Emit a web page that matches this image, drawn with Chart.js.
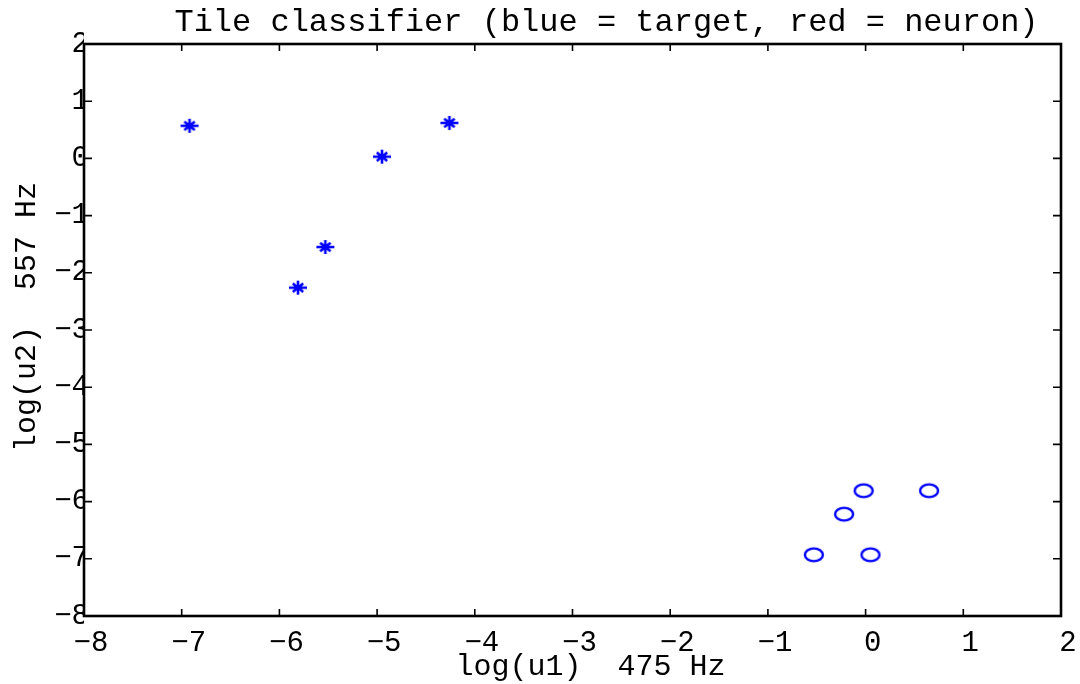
<!DOCTYPE html>
<html>
<head>
<meta charset="utf-8">
<script src="https://cdn.jsdelivr.net/npm/chart.js@4.4.1/dist/chart.umd.min.js"></script>
<style>
  html, body { margin: 0; padding: 0; background: #fff; }
  canvas { display: block; }
</style>
</head>
<body>
<canvas id="c" width="1080" height="684"></canvas>
<script>
// Class 1 samples (star markers)
const starX = [-6.92, -4.26, -4.95, -5.53, -5.81];
const starY = [0.57, 0.62, 0.03, -1.55, -2.26];
// Class 2 samples (circle markers)
const circleX = [-0.02, 0.65, -0.22, -0.53, 0.05];
const circleY = [-5.81, -5.81, -6.22, -6.93, -6.93];

const xTicks = [-8, -7, -6, -5, -4, -3, -2, -1, 0, 1, 2];
const yTicks = [-8, -7, -6, -5, -4, -3, -2, -1, 0, 1, 2];

const titleText = 'Tile classifier (blue = target, red = neuron)';
const xLabel = 'log(u1)  475 Hz';
const yLabel = 'log(u2)  557 Hz';

const FONT = '"Liberation Mono", "DejaVu Sans Mono", monospace';
const BLUE = '#0000ff';

// marker glyphs: an asterisk (plus + small cross) and an open ellipse
function starMark() {
  const c = document.createElement('canvas');
  c.width = 22; c.height = 18;
  const g = c.getContext('2d');
  g.strokeStyle = BLUE; g.lineWidth = 2.6;
  g.beginPath();
  g.moveTo(2, 9); g.lineTo(20, 9);
  g.moveTo(11, 2); g.lineTo(11, 16);
  g.moveTo(5.8, 4.8); g.lineTo(16.2, 13.2);
  g.moveTo(5.8, 13.2); g.lineTo(16.2, 4.8);
  g.stroke();
  return c;
}
function ringMark() {
  const c = document.createElement('canvas');
  c.width = 24; c.height = 18;
  const g = c.getContext('2d');
  g.strokeStyle = BLUE; g.lineWidth = 2.4;
  g.beginPath();
  g.ellipse(12, 9, 9, 6.4, 0, 0, Math.PI * 2);
  g.stroke();
  return c;
}

const toPoints = (xs, ys) => xs.map((v, i) => ({ x: v, y: ys[i] }));
const minusSign = v => String(v).replace('-', '\u2212');

// box outline with inward ticks on all four sides
const framePlugin = {
  id: 'frame',
  afterDatasetsDraw(chart) {
    const { ctx, chartArea: a, scales: { x, y } } = chart;
    ctx.save();
    ctx.strokeStyle = '#000';
    ctx.lineWidth = 1.6;
    ctx.beginPath();
    x.ticks.forEach(t => {
      const px = x.getPixelForValue(t.value);
      ctx.moveTo(px, a.bottom); ctx.lineTo(px, a.bottom - 7);
      ctx.moveTo(px, a.top); ctx.lineTo(px, a.top + 7);
    });
    y.ticks.forEach(t => {
      const py = y.getPixelForValue(t.value);
      ctx.moveTo(a.left, py); ctx.lineTo(a.left + 8, py);
      ctx.moveTo(a.right, py); ctx.lineTo(a.right - 8, py);
    });
    ctx.stroke();
    ctx.lineWidth = 2.6;
    ctx.strokeRect(a.left, a.top, a.right - a.left, a.bottom - a.top);
    ctx.restore();
  }
};

// title and axis labels
const labelPlugin = {
  id: 'labels',
  afterDraw(chart) {
    const { ctx, chartArea: a } = chart;
    const cx = (a.left + a.right) / 2;
    const cy = (a.top + a.bottom) / 2;
    ctx.save();
    ctx.fillStyle = '#000';
    ctx.textBaseline = 'alphabetic';
    ctx.textAlign = 'center';

    ctx.font = '32px ' + FONT;
    ctx.fillText(titleText, cx + 34, 31);

    ctx.font = '30px ' + FONT;
    ctx.fillText(xLabel, cx + 18, 675);

    ctx.translate(35, cy - 13);
    ctx.rotate(-Math.PI / 2);
    ctx.fillText(yLabel, 0, 0);
    ctx.restore();
  }
};

new Chart(document.getElementById('c'), {
  type: 'scatter',
  data: {
    datasets: [
      {
        data: toPoints(starX, starY),
        pointStyle: starMark(),
        pointRadius: 9,
        showLine: false
      },
      {
        data: toPoints(circleX, circleY),
        pointStyle: ringMark(),
        pointRadius: 9,
        showLine: false
      }
    ]
  },
  options: {
    responsive: false,
    animation: false,
    devicePixelRatio: 1,
    events: [],
    layout: { padding: { left: 0, top: 44, right: 19, bottom: 0 } },
    plugins: {
      legend: { display: false },
      tooltip: { enabled: false },
      title: { display: false }
    },
    scales: {
      x: {
        type: 'linear',
        min: -8, max: 2,
        afterBuildTicks: s => { s.ticks = xTicks.map(v => ({ value: v })); },
        afterFit: s => { s.height = 68; },
        grid: { display: false, drawTicks: false },
        border: { display: false },
        ticks: {
          color: '#000',
          font: { family: FONT, size: 29, lineHeight: 1.2 },
          padding: 10,
          labelOffset: 7,
          maxRotation: 0,
          autoSkip: false,
          callback: v => minusSign(v)
        }
      },
      y: {
        type: 'linear',
        min: -8, max: 2,
        afterBuildTicks: s => { s.ticks = yTicks.map(v => ({ value: v })); },
        afterFit: s => { s.width = 84; },
        grid: { display: false, drawTicks: false },
        border: { display: false },
        ticks: {
          color: '#000',
          font: { family: FONT, size: 29, lineHeight: 1.2 },
          padding: -5,
          autoSkip: false,
          callback: v => minusSign(v)
        }
      }
    }
  },
  plugins: [framePlugin, labelPlugin]
});
</script>
</body>
</html>
